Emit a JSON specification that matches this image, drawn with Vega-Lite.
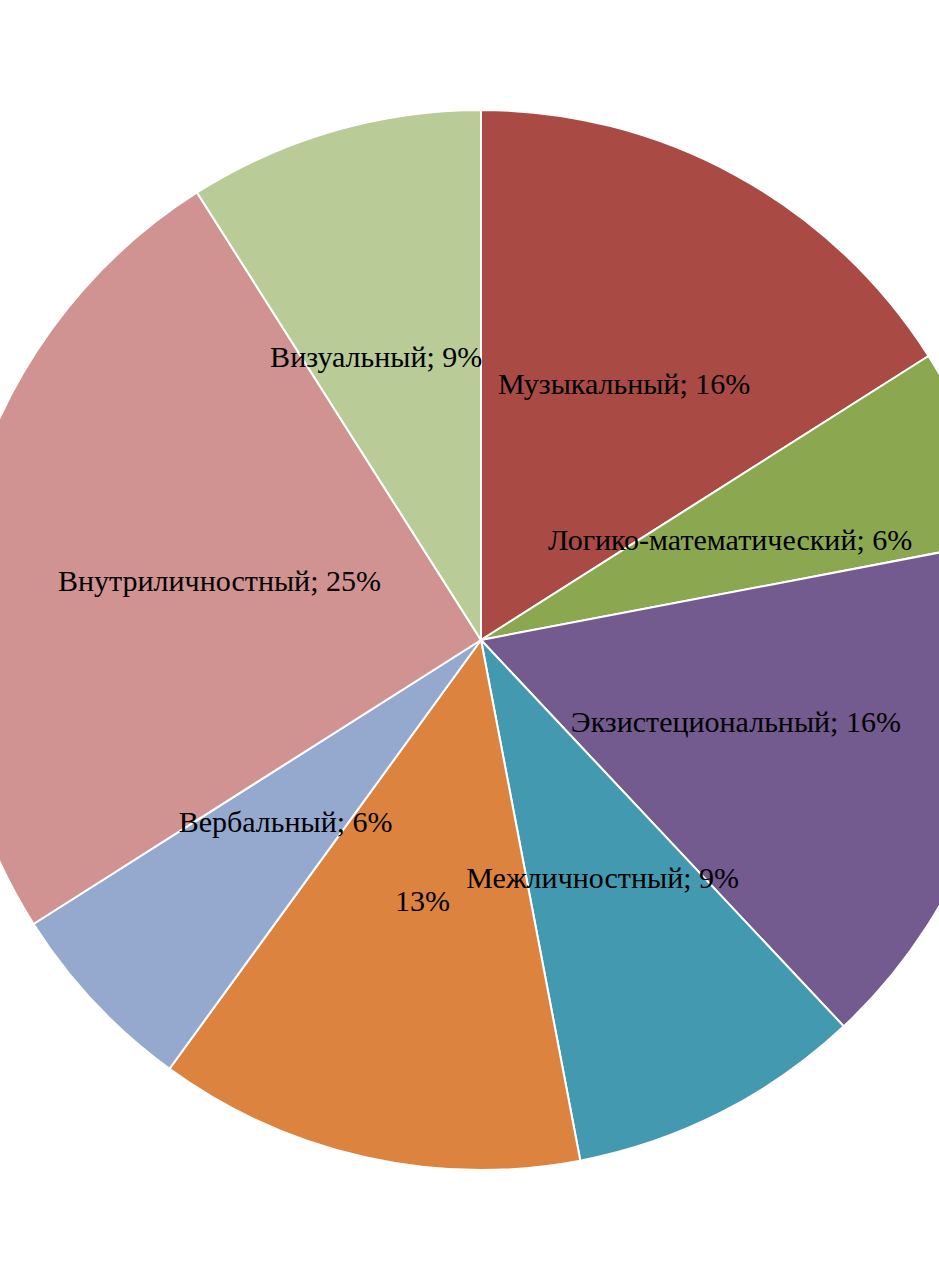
{
  "$schema": "https://vega.github.io/schema/vega-lite/v6.json",
  "autosize": {"type": "none"},
  "padding": {"left": 23, "top": 17, "right": 0, "bottom": 0},
  "width": 916,
  "height": 1246,
  "background": "white",
  "view": {"stroke": null},
  "data": {"values": [
    {"rank": 1, "category": "Музыкальный", "value": 16, "label": "Музыкальный; 16%"},
    {"rank": 2, "category": "Логико-математический", "value": 6, "label": "Логико-математический; 6%"},
    {"rank": 3, "category": "Экзистециональный", "value": 16, "label": "Экзистециональный; 16%"},
    {"rank": 4, "category": "Межличностный", "value": 9, "label": "Межличностный; 9%"},
    {"rank": 5, "category": "Телесный", "value": 13, "label": "13%"},
    {"rank": 6, "category": "Вербальный", "value": 6, "label": "Вербальный; 6%"},
    {"rank": 7, "category": "Внутриличностный", "value": 25, "label": "Внутриличностный; 25%"},
    {"rank": 8, "category": "Визуальный", "value": 9, "label": "Визуальный; 9%"}
  ]},
  "encoding": {
    "theta": {"field": "value", "type": "quantitative", "stack": true},
    "order": {"field": "rank", "type": "quantitative", "sort": "ascending"}
  },
  "layer": [
    {
      "mark": {"type": "arc", "outerRadius": 530, "stroke": "white", "strokeWidth": 2},
      "encoding": {
        "color": {
          "field": "category", "type": "nominal", "legend": null,
          "scale": {
            "domain": ["Музыкальный", "Логико-математический", "Экзистециональный", "Межличностный", "Телесный", "Вербальный", "Внутриличностный", "Визуальный"],
            "range": ["#A94A45", "#8BA750", "#735A8F", "#439AB0", "#DC843F", "#95A9CE", "#D09391", "#B9CC98"]
          }
        }
      }
    },
    {
      "mark": {"type": "text", "radius": 268, "font": "Liberation Serif", "fontSize": 30, "color": "black", "align": "center", "baseline": "middle"},
      "encoding": {"text": {"condition": {"test": "datum.category !== 'Музыкальный' && datum.category !== 'Визуальный'", "field": "label"}, "value": ""}}
    },
    {
      "mark": {"type": "text", "radius": 268, "font": "Liberation Serif", "fontSize": 30, "color": "black", "align": "center", "baseline": "middle", "dx": -30, "dy": -25},
      "encoding": {"text": {"condition": {"test": "datum.category === 'Визуальный'", "field": "label"}, "value": ""}}
    },
    {
      "mark": {"type": "text", "radius": 268, "font": "Liberation Serif", "fontSize": 30, "color": "black", "align": "center", "baseline": "middle", "dx": 14, "dy": -20},
      "encoding": {"text": {"condition": {"test": "datum.category === 'Музыкальный'", "field": "label"}, "value": ""}}
    }
  ]
}
